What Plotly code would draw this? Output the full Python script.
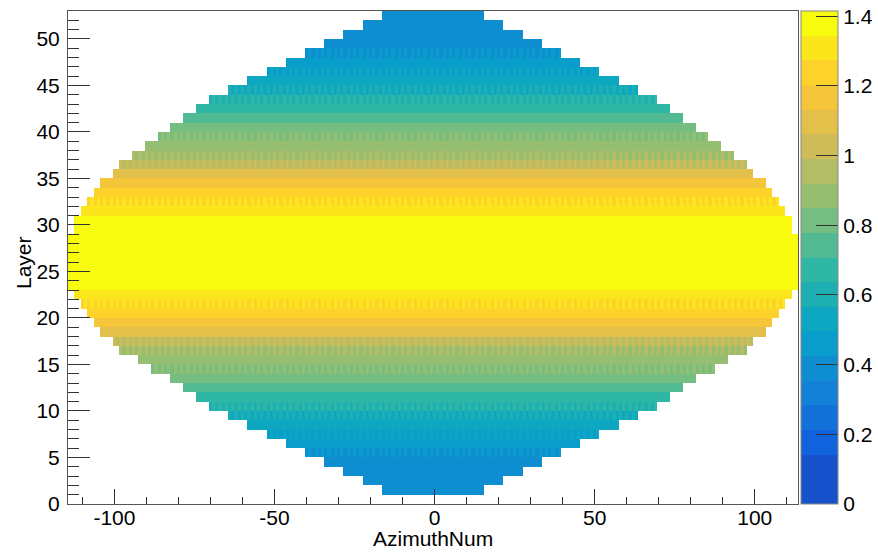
import plotly.graph_objects as go

# ---------------- data ----------------
layers = list(range(1, 53))
# number of azimuth cells in each layer (layer 1 .. 52)
cells_per_layer = [32, 44, 56, 68, 80, 92, 104, 116, 128, 140,
                   148, 156, 164, 176, 184, 196, 200, 208, 212, 216,
                   220, 224, 228, 228, 228, 228, 228, 228, 224, 224,
                   220, 216, 212, 208, 200, 196, 188, 180, 172, 164,
                   156, 148, 140, 128, 116, 104, 92, 80, 68, 56,
                   44, 32]
# value of even azimuth cells in each layer
layer_value = [0.39, 0.39, 0.39, 0.39, 0.39, 0.46, 0.46, 0.53, 0.60, 0.60,
               0.67, 0.74, 0.81, 0.81, 0.88, 0.955, 1.03, 1.10, 1.17, 1.24,
               1.24, 1.31, 1.38, 1.38, 1.38, 1.38, 1.38, 1.38, 1.38, 1.38,
               1.31, 1.24, 1.24, 1.17, 1.10, 1.03, 0.955, 0.88, 0.81, 0.81,
               0.74, 0.67, 0.60, 0.60, 0.53, 0.46, 0.46, 0.39, 0.39, 0.39,
               0.39, 0.39]
# value of odd azimuth cells in each layer (the comb pattern)
layer_value_alt = [0.39, 0.39, 0.39, 0.39, 0.46, 0.46, 0.53, 0.53, 0.53, 0.67,
                   0.67, 0.74, 0.81, 0.88, 0.88, 0.88, 0.955, 1.10, 1.17, 1.24,
                   1.31, 1.31, 1.38, 1.38, 1.38, 1.38, 1.38, 1.38, 1.38, 1.38,
                   1.31, 1.31, 1.24, 1.17, 1.10, 0.955, 0.88, 0.88, 0.88, 0.81,
                   0.74, 0.67, 0.67, 0.53, 0.53, 0.53, 0.46, 0.46, 0.39, 0.39,
                   0.39, 0.39]
x_ticks = [-100, -50, 0, 50, 100]
x_tick_text = ["-100", "-50", "0", "50", "100"]
y_ticks = [0, 5, 10, 15, 20, 25, 30, 35, 40, 45, 50]
z_ticks = [0, 0.2, 0.4, 0.6, 0.8, 1.0, 1.2, 1.4]
z_tick_text = ["0", "0.2", "0.4", "0.6", "0.8", "1", "1.2", "1.4"]
z_max = 1.415
n_contours = 20

# ---------------- build histogram grid ----------------
azimuth = list(range(-114, 114))          # bin centres
y_centres = [0.5] + [l + 0.5 for l in layers]
z = [[None] * len(azimuth)]               # layer 0 empty
for n, v, va in zip(cells_per_layer, layer_value, layer_value_alt):
    row = []
    for a in azimuth:
        if -n // 2 <= a <= n // 2 - 1:
            row.append(v if a % 2 == 0 else va)
        else:
            row.append(None)
    z.append(row)

# ROOT kBird palette, discretised into 20 contour bands
stops = [0.0, 0.125, 0.25, 0.375, 0.5, 0.625, 0.75, 0.875, 1.0]
red = [0.2082, 0.0592, 0.0780, 0.0232, 0.1802, 0.5301, 0.8186, 0.9956, 0.9764]
green = [0.1664, 0.3599, 0.5041, 0.6419, 0.7178, 0.7492, 0.7328, 0.7862, 0.9832]
blue = [0.5293, 0.8684, 0.8385, 0.7914, 0.6425, 0.4662, 0.3499, 0.1968, 0.0539]


def bird(p):
    for i in range(len(stops) - 1):
        if stops[i] <= p <= stops[i + 1]:
            f = (p - stops[i]) / (stops[i + 1] - stops[i])
            r = red[i] + (red[i + 1] - red[i]) * f
            g = green[i] + (green[i + 1] - green[i]) * f
            b = blue[i] + (blue[i + 1] - blue[i]) * f
            return "rgb(%d,%d,%d)" % (round(r * 255), round(g * 255), round(b * 255))
    return "rgb(249,251,14)"


colorscale = []
for i in range(n_contours):
    c = bird(min(1.0, (max(i, 1) + 0.99) / n_contours))
    colorscale.append([i / n_contours, c])
    colorscale.append([(i + 1) / n_contours, c])

FONT = "Liberation Sans, Arial, Helvetica, sans-serif"
FS = 21
PL, PR, PT, PB = 68, 798, 11, 504      # plot frame in pixels
PW, PH = PR - PL, PB - PT

fig = go.Figure(go.Heatmap(
    x=azimuth, y=y_centres, z=z,
    zmin=0, zmax=z_max, colorscale=colorscale,
    hoverongaps=False,
    colorbar=dict(
        x=1.0045, xanchor="left", xref="paper",
        y=0.5, yanchor="middle", len=1.0, lenmode="fraction",
        thickness=37, thicknessmode="pixels",
        outlinewidth=1, outlinecolor="#888888",
        ticks="inside", ticklen=22, tickcolor="#333333", tickwidth=1,
        tickvals=z_ticks, ticktext=z_tick_text,
        tickfont=dict(family=FONT, size=FS, color="black"),
        ypad=0, xpad=0,
    ),
))

fig.update_layout(
    width=878, height=552,
    margin=dict(l=PL, r=878 - PR, t=PT, b=552 - PB, autoexpand=False),
    paper_bgcolor="white", plot_bgcolor="white",
    font=dict(family=FONT, size=FS, color="black"),
    xaxis=dict(
        range=[-114.5, 113.5], tickvals=x_ticks, ticktext=x_tick_text,
        ticks="inside", ticklen=15, tickcolor="#333333", tickwidth=1,
        minor=dict(dtick=10, tick0=0, ticks="inside", ticklen=7, tickcolor="#333333"),
        showline=True, linecolor="#555555", linewidth=1, mirror=True,
        showgrid=False, zeroline=False, automargin=False,
        tickfont=dict(family=FONT, size=FS),
        ticklabelstandoff=-5,
    ),
    yaxis=dict(
        range=[0, 53], tickvals=y_ticks,
        ticks="inside", ticklen=22, tickcolor="#333333", tickwidth=1,
        minor=dict(dtick=1, tick0=0, ticks="inside", ticklen=11, tickcolor="#333333"),
        showline=True, linecolor="#555555", linewidth=1, mirror=True,
        showgrid=False, zeroline=False, automargin=False,
        tickfont=dict(family=FONT, size=FS),
        ticklabelstandoff=3,
    ),
    annotations=[
        dict(text="Layer", textangle=-90, showarrow=False,
             xref="paper", yref="paper",
             x=-(PL - 23) / PW, y=(PB - 263) / PH,
             xanchor="center", yanchor="middle",
             font=dict(family=FONT, size=FS, color="black")),
        dict(text="AzimuthNum", showarrow=False,
             xref="paper", yref="paper",
             x=0.5, y=-(538 - PB) / PH,
             xanchor="center", yanchor="middle",
             font=dict(family=FONT, size=FS, color="black")),
    ],
)

fig.write_html("out.html")
